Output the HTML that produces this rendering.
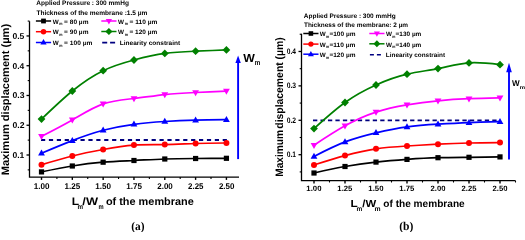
<!DOCTYPE html>
<html><head><meta charset="utf-8"><style>
html,body{margin:0;padding:0;background:#fff;width:525px;height:232px;overflow:hidden}
svg{display:block;will-change:transform}
text{font-family:"Liberation Sans", sans-serif;font-weight:bold;fill:#000;text-rendering:geometricPrecision}
</style></head><body>
<svg width="525" height="232" viewBox="0 0 525 232">
<rect width="525" height="232" fill="#fff"/>
<path d="M29.50,21.20 L29.50,177.10 L239.00,177.10" fill="none" stroke="#000" stroke-width="1.30"/>
<line x1="26.50" y1="155.00" x2="29.50" y2="155.00" stroke="#000" stroke-width="1.3"/>
<line x1="26.50" y1="125.24" x2="29.50" y2="125.24" stroke="#000" stroke-width="1.3"/>
<line x1="26.50" y1="95.48" x2="29.50" y2="95.48" stroke="#000" stroke-width="1.3"/>
<line x1="26.50" y1="65.72" x2="29.50" y2="65.72" stroke="#000" stroke-width="1.3"/>
<line x1="26.50" y1="35.96" x2="29.50" y2="35.96" stroke="#000" stroke-width="1.3"/>
<line x1="27.70" y1="169.88" x2="29.50" y2="169.88" stroke="#000" stroke-width="1.1"/>
<line x1="27.70" y1="140.12" x2="29.50" y2="140.12" stroke="#000" stroke-width="1.1"/>
<line x1="27.70" y1="110.36" x2="29.50" y2="110.36" stroke="#000" stroke-width="1.1"/>
<line x1="27.70" y1="80.60" x2="29.50" y2="80.60" stroke="#000" stroke-width="1.1"/>
<line x1="27.70" y1="50.84" x2="29.50" y2="50.84" stroke="#000" stroke-width="1.1"/>
<line x1="27.70" y1="21.08" x2="29.50" y2="21.08" stroke="#000" stroke-width="1.1"/>
<line x1="41.50" y1="177.10" x2="41.50" y2="179.90" stroke="#000" stroke-width="1.4"/>
<line x1="56.91" y1="177.10" x2="56.91" y2="178.90" stroke="#000" stroke-width="1.1"/>
<line x1="72.32" y1="177.10" x2="72.32" y2="179.90" stroke="#000" stroke-width="1.4"/>
<line x1="87.73" y1="177.10" x2="87.73" y2="178.90" stroke="#000" stroke-width="1.1"/>
<line x1="103.14" y1="177.10" x2="103.14" y2="179.90" stroke="#000" stroke-width="1.4"/>
<line x1="118.55" y1="177.10" x2="118.55" y2="178.90" stroke="#000" stroke-width="1.1"/>
<line x1="133.96" y1="177.10" x2="133.96" y2="179.90" stroke="#000" stroke-width="1.4"/>
<line x1="149.37" y1="177.10" x2="149.37" y2="178.90" stroke="#000" stroke-width="1.1"/>
<line x1="164.78" y1="177.10" x2="164.78" y2="179.90" stroke="#000" stroke-width="1.4"/>
<line x1="180.19" y1="177.10" x2="180.19" y2="178.90" stroke="#000" stroke-width="1.1"/>
<line x1="195.60" y1="177.10" x2="195.60" y2="179.90" stroke="#000" stroke-width="1.4"/>
<line x1="211.01" y1="177.10" x2="211.01" y2="178.90" stroke="#000" stroke-width="1.1"/>
<line x1="226.42" y1="177.10" x2="226.42" y2="179.90" stroke="#000" stroke-width="1.4"/>
<line x1="41.00" y1="140.00" x2="226.90" y2="140.00" stroke="#000080" stroke-width="1.8" stroke-dasharray="4.2,3.7"/>
<path d="M41.50,171.90 C51.77,169.80 62.05,167.69 72.32,166.00 C82.59,164.31 92.87,163.03 103.14,162.20 C113.41,161.37 123.69,161.00 133.96,160.50 C144.23,160.00 154.51,159.36 164.78,159.00 C175.05,158.64 185.33,158.57 195.60,158.50 C205.87,158.43 216.15,158.37 226.42,158.30" fill="none" stroke="#000000" stroke-width="1.7"/>
<rect x="38.90" y="169.30" width="5.20" height="5.20" fill="#000000"/>
<rect x="69.72" y="163.40" width="5.20" height="5.20" fill="#000000"/>
<rect x="100.54" y="159.60" width="5.20" height="5.20" fill="#000000"/>
<rect x="131.36" y="157.90" width="5.20" height="5.20" fill="#000000"/>
<rect x="162.18" y="156.40" width="5.20" height="5.20" fill="#000000"/>
<rect x="193.00" y="155.90" width="5.20" height="5.20" fill="#000000"/>
<rect x="223.82" y="155.70" width="5.20" height="5.20" fill="#000000"/>
<path d="M41.50,164.75 C51.77,161.66 62.05,158.56 72.32,156.00 C82.59,153.44 92.87,151.41 103.14,149.50 C113.41,147.59 123.69,145.81 133.96,145.10 C144.23,144.38 154.51,144.73 164.78,144.60 C175.05,144.47 185.33,143.85 195.60,143.50 C205.87,143.15 216.15,143.08 226.42,143.00" fill="none" stroke="#ff0000" stroke-width="1.7"/>
<circle cx="41.50" cy="164.75" r="3.00" fill="#ff0000"/>
<circle cx="72.32" cy="156.00" r="3.00" fill="#ff0000"/>
<circle cx="103.14" cy="149.50" r="3.00" fill="#ff0000"/>
<circle cx="133.96" cy="145.10" r="3.00" fill="#ff0000"/>
<circle cx="164.78" cy="144.60" r="3.00" fill="#ff0000"/>
<circle cx="195.60" cy="143.50" r="3.00" fill="#ff0000"/>
<circle cx="226.42" cy="143.00" r="3.00" fill="#ff0000"/>
<path d="M41.50,153.20 C51.77,148.88 62.05,144.56 72.32,140.60 C82.59,136.64 92.87,133.05 103.14,130.30 C113.41,127.55 123.69,125.66 133.96,124.30 C144.23,122.94 154.51,122.12 164.78,121.50 C175.05,120.88 185.33,120.47 195.60,120.20 C205.87,119.93 216.15,119.82 226.42,119.70" fill="none" stroke="#0000ff" stroke-width="1.7"/>
<path d="M41.50,149.48 L44.90,155.48 L38.10,155.48 Z" fill="#0000ff"/>
<path d="M72.32,136.88 L75.72,142.88 L68.92,142.88 Z" fill="#0000ff"/>
<path d="M103.14,126.58 L106.54,132.58 L99.74,132.58 Z" fill="#0000ff"/>
<path d="M133.96,120.58 L137.36,126.58 L130.56,126.58 Z" fill="#0000ff"/>
<path d="M164.78,117.78 L168.18,123.78 L161.38,123.78 Z" fill="#0000ff"/>
<path d="M195.60,116.48 L199.00,122.48 L192.20,122.48 Z" fill="#0000ff"/>
<path d="M226.42,115.98 L229.82,121.98 L223.02,121.98 Z" fill="#0000ff"/>
<path d="M41.50,136.30 C51.77,131.04 62.05,125.79 72.32,119.90 C82.59,114.01 92.87,107.49 103.14,103.90 C113.41,100.31 123.69,99.66 133.96,98.50 C144.23,97.34 154.51,95.69 164.78,94.60 C175.05,93.51 185.33,92.99 195.60,92.50 C205.87,92.01 216.15,91.56 226.42,91.10" fill="none" stroke="#ff00ff" stroke-width="1.7"/>
<path d="M41.50,140.02 L44.90,134.02 L38.10,134.02 Z" fill="#ff00ff"/>
<path d="M72.32,123.62 L75.72,117.62 L68.92,117.62 Z" fill="#ff00ff"/>
<path d="M103.14,107.62 L106.54,101.62 L99.74,101.62 Z" fill="#ff00ff"/>
<path d="M133.96,102.22 L137.36,96.22 L130.56,96.22 Z" fill="#ff00ff"/>
<path d="M164.78,98.32 L168.18,92.32 L161.38,92.32 Z" fill="#ff00ff"/>
<path d="M195.60,96.22 L199.00,90.22 L192.20,90.22 Z" fill="#ff00ff"/>
<path d="M226.42,94.82 L229.82,88.82 L223.02,88.82 Z" fill="#ff00ff"/>
<path d="M41.50,119.10 C51.77,109.25 62.05,99.39 72.32,91.00 C82.59,82.61 92.87,75.67 103.14,70.70 C113.41,65.73 123.69,62.73 133.96,60.00 C144.23,57.27 154.51,54.82 164.78,53.40 C175.05,51.98 185.33,51.61 195.60,51.20 C205.87,50.79 216.15,50.35 226.42,49.90" fill="none" stroke="#008000" stroke-width="1.7"/>
<path d="M41.50,115.20 L45.40,119.10 L41.50,123.00 L37.60,119.10 Z" fill="#008000"/>
<path d="M72.32,87.10 L76.22,91.00 L72.32,94.90 L68.42,91.00 Z" fill="#008000"/>
<path d="M103.14,66.80 L107.04,70.70 L103.14,74.60 L99.24,70.70 Z" fill="#008000"/>
<path d="M133.96,56.10 L137.86,60.00 L133.96,63.90 L130.06,60.00 Z" fill="#008000"/>
<path d="M164.78,49.50 L168.68,53.40 L164.78,57.30 L160.88,53.40 Z" fill="#008000"/>
<path d="M195.60,47.30 L199.50,51.20 L195.60,55.10 L191.70,51.20 Z" fill="#008000"/>
<path d="M226.42,46.00 L230.32,49.90 L226.42,53.80 L222.52,49.90 Z" fill="#008000"/>
<line x1="238.10" y1="159.10" x2="238.10" y2="60.50" stroke="#0000ff" stroke-width="1.9"/>
<path d="M238.10,55.50 L240.80,63.00 L235.40,63.00 Z" fill="#0000ff"/>
<line x1="35.90" y1="21.00" x2="51.10" y2="21.00" stroke="#000000" stroke-width="1.5"/>
<rect x="41.11" y="18.61" width="4.78" height="4.78" fill="#000000"/>
<line x1="35.90" y1="31.70" x2="51.10" y2="31.70" stroke="#ff0000" stroke-width="1.5"/>
<circle cx="43.50" cy="31.70" r="2.76" fill="#ff0000"/>
<line x1="35.90" y1="42.50" x2="51.10" y2="42.50" stroke="#0000ff" stroke-width="1.5"/>
<path d="M43.50,39.08 L46.63,44.60 L40.37,44.60 Z" fill="#0000ff"/>
<line x1="101.30" y1="21.00" x2="116.50" y2="21.00" stroke="#ff00ff" stroke-width="1.5"/>
<path d="M108.90,24.42 L112.03,18.90 L105.77,18.90 Z" fill="#ff00ff"/>
<line x1="101.30" y1="31.50" x2="116.50" y2="31.50" stroke="#008000" stroke-width="1.5"/>
<path d="M108.90,27.91 L112.49,31.50 L108.90,35.09 L105.31,31.50 Z" fill="#008000"/>
<line x1="102.20" y1="42.60" x2="115.10" y2="42.60" stroke="#000080" stroke-width="1.6" stroke-dasharray="5,2.9"/>
<path d="M301.50,33.80 L301.50,180.70 L515.50,180.70" fill="none" stroke="#000" stroke-width="1.30"/>
<line x1="298.50" y1="154.70" x2="301.50" y2="154.70" stroke="#000" stroke-width="1.3"/>
<line x1="298.50" y1="120.29" x2="301.50" y2="120.29" stroke="#000" stroke-width="1.3"/>
<line x1="298.50" y1="85.88" x2="301.50" y2="85.88" stroke="#000" stroke-width="1.3"/>
<line x1="298.50" y1="51.47" x2="301.50" y2="51.47" stroke="#000" stroke-width="1.3"/>
<line x1="299.70" y1="171.91" x2="301.50" y2="171.91" stroke="#000" stroke-width="1.1"/>
<line x1="299.70" y1="137.50" x2="301.50" y2="137.50" stroke="#000" stroke-width="1.1"/>
<line x1="299.70" y1="103.08" x2="301.50" y2="103.08" stroke="#000" stroke-width="1.1"/>
<line x1="299.70" y1="68.67" x2="301.50" y2="68.67" stroke="#000" stroke-width="1.1"/>
<line x1="299.70" y1="34.26" x2="301.50" y2="34.26" stroke="#000" stroke-width="1.1"/>
<line x1="314.00" y1="180.70" x2="314.00" y2="183.50" stroke="#000" stroke-width="1.4"/>
<line x1="329.50" y1="180.70" x2="329.50" y2="182.50" stroke="#000" stroke-width="1.1"/>
<line x1="345.00" y1="180.70" x2="345.00" y2="183.50" stroke="#000" stroke-width="1.4"/>
<line x1="360.50" y1="180.70" x2="360.50" y2="182.50" stroke="#000" stroke-width="1.1"/>
<line x1="376.00" y1="180.70" x2="376.00" y2="183.50" stroke="#000" stroke-width="1.4"/>
<line x1="391.50" y1="180.70" x2="391.50" y2="182.50" stroke="#000" stroke-width="1.1"/>
<line x1="407.00" y1="180.70" x2="407.00" y2="183.50" stroke="#000" stroke-width="1.4"/>
<line x1="422.50" y1="180.70" x2="422.50" y2="182.50" stroke="#000" stroke-width="1.1"/>
<line x1="438.00" y1="180.70" x2="438.00" y2="183.50" stroke="#000" stroke-width="1.4"/>
<line x1="453.50" y1="180.70" x2="453.50" y2="182.50" stroke="#000" stroke-width="1.1"/>
<line x1="469.00" y1="180.70" x2="469.00" y2="183.50" stroke="#000" stroke-width="1.4"/>
<line x1="484.50" y1="180.70" x2="484.50" y2="182.50" stroke="#000" stroke-width="1.1"/>
<line x1="500.00" y1="180.70" x2="500.00" y2="183.50" stroke="#000" stroke-width="1.4"/>
<line x1="515.50" y1="180.70" x2="515.50" y2="182.50" stroke="#000" stroke-width="1.1"/>
<line x1="313.00" y1="120.30" x2="496.60" y2="120.30" stroke="#000080" stroke-width="1.8" stroke-dasharray="4.3,3.17"/>
<path d="M314.00,173.00 C324.33,170.68 334.67,168.36 345.00,166.50 C355.33,164.64 365.67,163.22 376.00,162.10 C386.33,160.98 396.67,160.14 407.00,159.40 C417.33,158.66 427.67,158.02 438.00,157.70 C448.33,157.38 458.67,157.38 469.00,157.30 C479.33,157.22 489.67,157.06 500.00,156.90" fill="none" stroke="#000000" stroke-width="1.7"/>
<rect x="311.40" y="170.40" width="5.20" height="5.20" fill="#000000"/>
<rect x="342.40" y="163.90" width="5.20" height="5.20" fill="#000000"/>
<rect x="373.40" y="159.50" width="5.20" height="5.20" fill="#000000"/>
<rect x="404.40" y="156.80" width="5.20" height="5.20" fill="#000000"/>
<rect x="435.40" y="155.10" width="5.20" height="5.20" fill="#000000"/>
<rect x="466.40" y="154.70" width="5.20" height="5.20" fill="#000000"/>
<rect x="497.40" y="154.30" width="5.20" height="5.20" fill="#000000"/>
<path d="M314.00,164.90 C324.33,161.67 334.67,158.43 345.00,155.60 C355.33,152.77 365.67,150.33 376.00,148.80 C386.33,147.27 396.67,146.63 407.00,146.00 C417.33,145.37 427.67,144.73 438.00,144.20 C448.33,143.67 458.67,143.25 469.00,143.00 C479.33,142.75 489.67,142.68 500.00,142.60" fill="none" stroke="#ff0000" stroke-width="1.7"/>
<circle cx="314.00" cy="164.90" r="3.00" fill="#ff0000"/>
<circle cx="345.00" cy="155.60" r="3.00" fill="#ff0000"/>
<circle cx="376.00" cy="148.80" r="3.00" fill="#ff0000"/>
<circle cx="407.00" cy="146.00" r="3.00" fill="#ff0000"/>
<circle cx="438.00" cy="144.20" r="3.00" fill="#ff0000"/>
<circle cx="469.00" cy="143.00" r="3.00" fill="#ff0000"/>
<circle cx="500.00" cy="142.60" r="3.00" fill="#ff0000"/>
<path d="M314.00,156.40 C324.33,151.14 334.67,145.88 345.00,141.90 C355.33,137.92 365.67,135.21 376.00,132.80 C386.33,130.39 396.67,128.29 407.00,126.90 C417.33,125.51 427.67,124.82 438.00,124.20 C448.33,123.58 458.67,123.02 469.00,122.60 C479.33,122.18 489.67,121.89 500.00,121.60" fill="none" stroke="#0000ff" stroke-width="1.7"/>
<path d="M314.00,152.68 L317.40,158.68 L310.60,158.68 Z" fill="#0000ff"/>
<path d="M345.00,138.18 L348.40,144.18 L341.60,144.18 Z" fill="#0000ff"/>
<path d="M376.00,129.08 L379.40,135.08 L372.60,135.08 Z" fill="#0000ff"/>
<path d="M407.00,123.18 L410.40,129.18 L403.60,129.18 Z" fill="#0000ff"/>
<path d="M438.00,120.48 L441.40,126.48 L434.60,126.48 Z" fill="#0000ff"/>
<path d="M469.00,118.88 L472.40,124.88 L465.60,124.88 Z" fill="#0000ff"/>
<path d="M500.00,117.88 L503.40,123.88 L496.60,123.88 Z" fill="#0000ff"/>
<path d="M314.00,145.20 C324.33,138.36 334.67,131.53 345.00,125.80 C355.33,120.07 365.67,115.46 376.00,112.10 C386.33,108.74 396.67,106.63 407.00,104.90 C417.33,103.17 427.67,101.81 438.00,100.80 C448.33,99.79 458.67,99.13 469.00,98.70 C479.33,98.27 489.67,98.09 500.00,97.90" fill="none" stroke="#ff00ff" stroke-width="1.7"/>
<path d="M314.00,148.92 L317.40,142.92 L310.60,142.92 Z" fill="#ff00ff"/>
<path d="M345.00,129.52 L348.40,123.52 L341.60,123.52 Z" fill="#ff00ff"/>
<path d="M376.00,115.82 L379.40,109.82 L372.60,109.82 Z" fill="#ff00ff"/>
<path d="M407.00,108.62 L410.40,102.62 L403.60,102.62 Z" fill="#ff00ff"/>
<path d="M438.00,104.52 L441.40,98.52 L434.60,98.52 Z" fill="#ff00ff"/>
<path d="M469.00,102.42 L472.40,96.42 L465.60,96.42 Z" fill="#ff00ff"/>
<path d="M500.00,101.62 L503.40,95.62 L496.60,95.62 Z" fill="#ff00ff"/>
<path d="M314.00,128.60 C324.33,119.26 334.67,109.91 345.00,102.50 C355.33,95.09 365.67,89.61 376.00,85.00 C386.33,80.39 396.67,76.64 407.00,74.20 C417.33,71.76 427.67,70.62 438.00,68.60 C448.33,66.58 458.67,63.70 469.00,62.90 C479.33,62.10 489.67,63.40 500.00,64.70" fill="none" stroke="#008000" stroke-width="1.7"/>
<path d="M314.00,124.70 L317.90,128.60 L314.00,132.50 L310.10,128.60 Z" fill="#008000"/>
<path d="M345.00,98.60 L348.90,102.50 L345.00,106.40 L341.10,102.50 Z" fill="#008000"/>
<path d="M376.00,81.10 L379.90,85.00 L376.00,88.90 L372.10,85.00 Z" fill="#008000"/>
<path d="M407.00,70.30 L410.90,74.20 L407.00,78.10 L403.10,74.20 Z" fill="#008000"/>
<path d="M438.00,64.70 L441.90,68.60 L438.00,72.50 L434.10,68.60 Z" fill="#008000"/>
<path d="M469.00,59.00 L472.90,62.90 L469.00,66.80 L465.10,62.90 Z" fill="#008000"/>
<path d="M500.00,60.80 L503.90,64.70 L500.00,68.60 L496.10,64.70 Z" fill="#008000"/>
<line x1="509.00" y1="159.40" x2="509.00" y2="67.75" stroke="#0000ff" stroke-width="1.9"/>
<path d="M509.00,62.75 L511.80,72.25 L506.20,72.25 Z" fill="#0000ff"/>
<line x1="303.30" y1="33.50" x2="318.50" y2="33.50" stroke="#000000" stroke-width="1.5"/>
<rect x="308.61" y="31.21" width="4.58" height="4.58" fill="#000000"/>
<line x1="303.30" y1="44.10" x2="318.50" y2="44.10" stroke="#ff0000" stroke-width="1.5"/>
<circle cx="310.90" cy="44.10" r="2.64" fill="#ff0000"/>
<line x1="303.30" y1="54.20" x2="318.50" y2="54.20" stroke="#0000ff" stroke-width="1.5"/>
<path d="M310.90,50.93 L313.89,56.21 L307.91,56.21 Z" fill="#0000ff"/>
<line x1="369.30" y1="33.50" x2="384.50" y2="33.50" stroke="#ff00ff" stroke-width="1.5"/>
<path d="M376.90,36.77 L379.89,31.49 L373.91,31.49 Z" fill="#ff00ff"/>
<line x1="369.30" y1="43.80" x2="384.50" y2="43.80" stroke="#008000" stroke-width="1.5"/>
<path d="M376.90,40.37 L380.33,43.80 L376.90,47.23 L373.47,43.80 Z" fill="#008000"/>
<line x1="369.90" y1="54.80" x2="380.90" y2="54.80" stroke="#000080" stroke-width="1.6" stroke-dasharray="4,3"/>
<text x="12.46" y="158.00" font-size="8.50" textLength="11.92" lengthAdjust="spacingAndGlyphs">0.1</text>
<text x="12.45" y="128.24" font-size="8.50" textLength="12.01" lengthAdjust="spacingAndGlyphs">0.2</text>
<text x="12.45" y="98.48" font-size="8.50" textLength="12.01" lengthAdjust="spacingAndGlyphs">0.3</text>
<text x="12.46" y="68.72" font-size="8.50" textLength="11.74" lengthAdjust="spacingAndGlyphs">0.4</text>
<text x="12.46" y="38.96" font-size="8.50" textLength="11.92" lengthAdjust="spacingAndGlyphs">0.5</text>
<text x="33.71" y="188.80" font-size="8.30" textLength="15.78" lengthAdjust="spacingAndGlyphs">1.00</text>
<text x="64.54" y="188.80" font-size="8.30" textLength="15.70" lengthAdjust="spacingAndGlyphs">1.25</text>
<text x="95.35" y="188.80" font-size="8.30" textLength="15.78" lengthAdjust="spacingAndGlyphs">1.50</text>
<text x="126.18" y="188.80" font-size="8.30" textLength="15.70" lengthAdjust="spacingAndGlyphs">1.75</text>
<text x="157.24" y="188.80" font-size="8.30" textLength="15.53" lengthAdjust="spacingAndGlyphs">2.00</text>
<text x="188.06" y="188.80" font-size="8.30" textLength="15.45" lengthAdjust="spacingAndGlyphs">2.25</text>
<text x="218.88" y="188.80" font-size="8.30" textLength="15.53" lengthAdjust="spacingAndGlyphs">2.50</text>
<text x="243.25" y="62.40" font-size="11.50" textLength="11.58" lengthAdjust="spacingAndGlyphs">W</text>
<text x="254.73" y="65.40" font-size="7.40" textLength="5.54" lengthAdjust="spacingAndGlyphs">m</text>
<text x="36.37" y="5.30" font-size="6.50" textLength="92.53" lengthAdjust="spacingAndGlyphs">Applied Pressure : 300 mmHg</text>
<text x="36.43" y="14.90" font-size="6.50" textLength="110.86" lengthAdjust="spacingAndGlyphs">Thickness of the membrane :1.5 &#181;m</text>
<text x="52.70" y="23.60" font-size="6.30">W</text>
<text x="59.28" y="25.10" font-size="4.30" textLength="3.23" lengthAdjust="spacingAndGlyphs">m</text>
<text x="64.14" y="23.60" font-size="6.30" textLength="24.34" lengthAdjust="spacingAndGlyphs">= 80 &#181;m</text>
<text x="52.70" y="34.30" font-size="6.30">W</text>
<text x="59.28" y="35.80" font-size="4.30" textLength="3.23" lengthAdjust="spacingAndGlyphs">m</text>
<text x="64.14" y="34.30" font-size="6.30" textLength="24.34" lengthAdjust="spacingAndGlyphs">= 90 &#181;m</text>
<text x="52.70" y="45.20" font-size="6.30">W</text>
<text x="59.28" y="46.70" font-size="4.30" textLength="3.23" lengthAdjust="spacingAndGlyphs">m</text>
<text x="64.13" y="45.20" font-size="6.30" textLength="28.32" lengthAdjust="spacingAndGlyphs">= 100 &#181;m</text>
<text x="118.10" y="23.60" font-size="6.30">W</text>
<text x="124.68" y="25.10" font-size="4.30" textLength="3.23" lengthAdjust="spacingAndGlyphs">m</text>
<text x="129.54" y="23.60" font-size="6.30" textLength="27.75" lengthAdjust="spacingAndGlyphs">= 110 &#181;m</text>
<text x="118.10" y="34.10" font-size="6.30">W</text>
<text x="124.68" y="35.60" font-size="4.30" textLength="3.23" lengthAdjust="spacingAndGlyphs">m</text>
<text x="129.54" y="34.10" font-size="6.30" textLength="27.71" lengthAdjust="spacingAndGlyphs">= 120 &#181;m</text>
<text x="119.81" y="45.10" font-size="6.30" textLength="60.35" lengthAdjust="spacingAndGlyphs">Linearity constraint</text>
<text transform="translate(9.10,174.60) rotate(-90)" x="-0.66" y="0" font-size="10.80" textLength="151.41" lengthAdjust="spacingAndGlyphs">Maximum displacement (&#181;m)</text>
<text x="71.68" y="204.80" font-size="10.80" textLength="7.38" lengthAdjust="spacingAndGlyphs">L</text>
<text x="77.53" y="208.80" font-size="7.00" textLength="5.54" lengthAdjust="spacingAndGlyphs">m</text>
<text x="82.37" y="204.80" font-size="10.80" textLength="15.65" lengthAdjust="spacingAndGlyphs">/W</text>
<text x="98.40" y="208.80" font-size="7.00" textLength="5.14" lengthAdjust="spacingAndGlyphs">m</text>
<text x="105.92" y="204.80" font-size="10.80" textLength="87.87" lengthAdjust="spacingAndGlyphs">of the membrane</text>
<text x="131.34" y="229.80" font-size="12.00" style="font-family:'Liberation Serif', serif" textLength="13.27" lengthAdjust="spacingAndGlyphs">(a)</text>
<text x="286.73" y="157.00" font-size="7.90" textLength="9.30" lengthAdjust="spacingAndGlyphs">0.1</text>
<text x="286.73" y="122.59" font-size="7.90" textLength="9.37" lengthAdjust="spacingAndGlyphs">0.2</text>
<text x="286.73" y="88.18" font-size="7.90" textLength="9.37" lengthAdjust="spacingAndGlyphs">0.3</text>
<text x="286.74" y="53.77" font-size="7.90" textLength="9.16" lengthAdjust="spacingAndGlyphs">0.4</text>
<text x="306.33" y="191.10" font-size="7.70" textLength="15.15" lengthAdjust="spacingAndGlyphs">1.00</text>
<text x="337.34" y="191.10" font-size="7.70" textLength="15.07" lengthAdjust="spacingAndGlyphs">1.25</text>
<text x="368.33" y="191.10" font-size="7.70" textLength="15.15" lengthAdjust="spacingAndGlyphs">1.50</text>
<text x="399.34" y="191.10" font-size="7.70" textLength="15.07" lengthAdjust="spacingAndGlyphs">1.75</text>
<text x="430.57" y="191.10" font-size="7.70" textLength="14.91" lengthAdjust="spacingAndGlyphs">2.00</text>
<text x="461.57" y="191.10" font-size="7.70" textLength="14.83" lengthAdjust="spacingAndGlyphs">2.25</text>
<text x="492.57" y="191.10" font-size="7.70" textLength="14.91" lengthAdjust="spacingAndGlyphs">2.50</text>
<text x="512.00" y="86.00" font-size="8.50" textLength="7.65" lengthAdjust="spacingAndGlyphs">W</text>
<text x="519.84" y="89.00" font-size="5.00" textLength="5.31" lengthAdjust="spacingAndGlyphs">m</text>
<text x="303.87" y="17.90" font-size="6.40" textLength="91.78" lengthAdjust="spacingAndGlyphs">Applied Pressure : 300 mmHg</text>
<text x="303.94" y="26.50" font-size="6.40" textLength="104.18" lengthAdjust="spacingAndGlyphs">Thickness of the membrane: 2 &#181;m</text>
<text x="319.75" y="36.20" font-size="6.30">W</text>
<text x="326.04" y="37.80" font-size="4.20" textLength="3.12" lengthAdjust="spacingAndGlyphs">m</text>
<text x="329.44" y="36.20" font-size="6.30" textLength="26.02" lengthAdjust="spacingAndGlyphs">=100 &#181;m</text>
<text x="319.75" y="46.80" font-size="6.30">W</text>
<text x="326.04" y="48.40" font-size="4.20" textLength="3.12" lengthAdjust="spacingAndGlyphs">m</text>
<text x="329.44" y="46.80" font-size="6.30" textLength="26.06" lengthAdjust="spacingAndGlyphs">=110 &#181;m</text>
<text x="319.75" y="56.90" font-size="6.30">W</text>
<text x="326.04" y="58.50" font-size="4.20" textLength="3.12" lengthAdjust="spacingAndGlyphs">m</text>
<text x="329.44" y="56.90" font-size="6.30" textLength="26.02" lengthAdjust="spacingAndGlyphs">=120 &#181;m</text>
<text x="385.90" y="36.20" font-size="6.30">W</text>
<text x="392.19" y="37.80" font-size="4.20" textLength="3.12" lengthAdjust="spacingAndGlyphs">m</text>
<text x="395.59" y="36.20" font-size="6.30" textLength="25.77" lengthAdjust="spacingAndGlyphs">=130 &#181;m</text>
<text x="385.90" y="46.50" font-size="6.30">W</text>
<text x="392.19" y="48.10" font-size="4.20" textLength="3.12" lengthAdjust="spacingAndGlyphs">m</text>
<text x="395.59" y="46.50" font-size="6.30" textLength="25.77" lengthAdjust="spacingAndGlyphs">=140 &#181;m</text>
<text x="385.82" y="57.00" font-size="6.30" textLength="59.35" lengthAdjust="spacingAndGlyphs">Linearity constraint</text>
<text transform="translate(282.50,176.20) rotate(-90)" x="-0.61" y="0" font-size="10.80" textLength="46.74" lengthAdjust="spacingAndGlyphs">Maximum</text>
<text transform="translate(282.50,128.30) rotate(-90)" x="-0.42" y="0" font-size="10.80" textLength="91.43" lengthAdjust="spacingAndGlyphs">displacement (&#181;m)</text>
<text x="350.54" y="206.60" font-size="10.30" textLength="7.20" lengthAdjust="spacingAndGlyphs">L</text>
<text x="356.51" y="210.70" font-size="6.80" textLength="5.77" lengthAdjust="spacingAndGlyphs">m</text>
<text x="362.39" y="206.60" font-size="10.30" textLength="13.88" lengthAdjust="spacingAndGlyphs">/W</text>
<text x="374.59" y="210.70" font-size="6.80" textLength="6.06" lengthAdjust="spacingAndGlyphs">m</text>
<text x="383.30" y="206.60" font-size="10.30" textLength="81.38" lengthAdjust="spacingAndGlyphs">of the membrane</text>
<text x="399.24" y="229.80" font-size="12.00" style="font-family:'Liberation Serif', serif" textLength="14.15" lengthAdjust="spacingAndGlyphs">(b)</text>
</svg>
</body></html>
